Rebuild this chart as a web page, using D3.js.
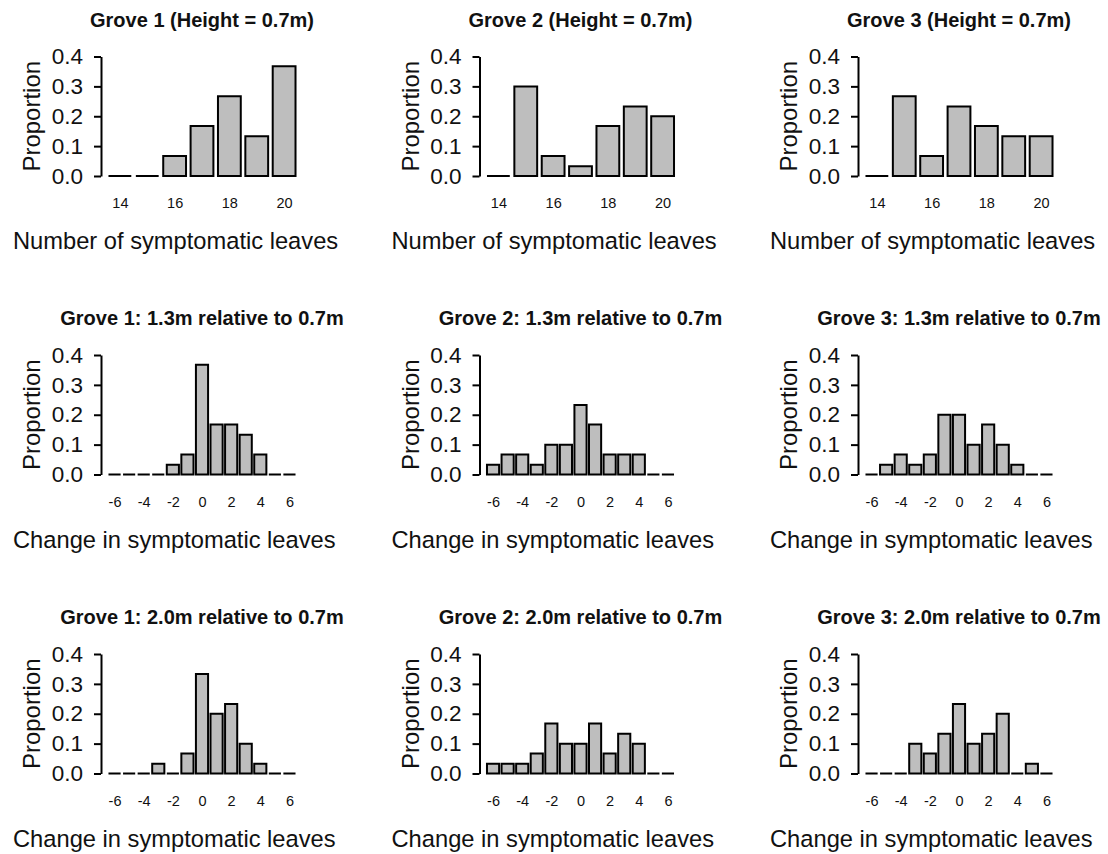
<!DOCTYPE html>
<html>
<head>
<meta charset="utf-8">
<script src="https://cdn.jsdelivr.net/npm/d3@7"></script>
<style>
  html, body { margin: 0; padding: 0; background: #fff; }
  svg { display: block; font-family: "Liberation Sans", Arial, sans-serif; }
</style>
</head>
<body>
<svg id="chart" width="1108" height="854"></svg>
<script>
// ---------- data ----------
const leafCounts = [14, 15, 16, 17, 18, 19, 20];
const leafTickLabels = ["14", "16", "18", "20"];
const changeValues = [-6, -5, -4, -3, -2, -1, 0, 1, 2, 3, 4, 5, 6];
const changeTickLabels = ["-6", "-4", "-2", "0", "2", "4", "6"];
const yTicks = [0.0, 0.1, 0.2, 0.3, 0.4];
const yTickLabels = ["0.0", "0.1", "0.2", "0.3", "0.4"];

const grove1_07 = [0, 0, 0.067, 0.167, 0.267, 0.133, 0.367];
const grove2_07 = [0, 0.300, 0.067, 0.033, 0.167, 0.233, 0.200];
const grove3_07 = [0, 0.267, 0.067, 0.233, 0.167, 0.133, 0.133];

const grove1_13 = [0, 0, 0, 0, 0.033, 0.067, 0.367, 0.167, 0.167, 0.133, 0.067, 0, 0];
const grove2_13 = [0.033, 0.067, 0.067, 0.033, 0.100, 0.100, 0.233, 0.167, 0.067, 0.067, 0.067, 0, 0];
const grove3_13 = [0, 0.033, 0.067, 0.033, 0.067, 0.200, 0.200, 0.100, 0.167, 0.100, 0.033, 0, 0];

const grove1_20 = [0, 0, 0, 0.033, 0, 0.067, 0.333, 0.200, 0.233, 0.100, 0.033, 0, 0];
const grove2_20 = [0.033, 0.033, 0.033, 0.067, 0.167, 0.100, 0.100, 0.167, 0.067, 0.133, 0.100, 0, 0];
const grove3_20 = [0, 0, 0, 0.100, 0.067, 0.133, 0.233, 0.100, 0.133, 0.200, 0, 0.033, 0];

const panelTitles = [
  ["Grove 1 (Height = 0.7m)", "Grove 2 (Height = 0.7m)", "Grove 3 (Height = 0.7m)"],
  ["Grove 1: 1.3m relative to 0.7m", "Grove 2: 1.3m relative to 0.7m", "Grove 3: 1.3m relative to 0.7m"],
  ["Grove 1: 2.0m relative to 0.7m", "Grove 2: 2.0m relative to 0.7m", "Grove 3: 2.0m relative to 0.7m"]
];
const xLabels = ["Number of symptomatic leaves", "Change in symptomatic leaves", "Change in symptomatic leaves"];
const yLabel = "Proportion";

// ---------- layout ----------
const colAxisX = [101, 479.5, 858];
const rowZeroY = [176, 474.5, 773.5];
const plotW = 202;
const plotH04 = 119.5;   // pixel height from 0 to 0.4
const barSpace = 0.2;

const rows = [
  { cats: leafCounts, labels: leafTickLabels, series: [grove1_07, grove2_07, grove3_07] },
  { cats: changeValues, labels: changeTickLabels, series: [grove1_13, grove2_13, grove3_13] },
  { cats: changeValues, labels: changeTickLabels, series: [grove1_20, grove2_20, grove3_20] }
];

const svg = d3.select("#chart");

rows.forEach((row, ri) => {
  row.series.forEach((vals, ci) => {
    const ax = colAxisX[ci];
    const y0 = rowZeroY[ri];
    const n = row.cats.length;
    // R barplot geometry: bars in [space + i*(1+space), (i+1)*(1+space)], 4% expansion
    const lo = barSpace, hi = n * (1 + barSpace);
    const pad = 0.04 * (hi - lo);
    const x = d3.scaleLinear().domain([lo - pad, hi + pad]).range([ax, ax + plotW]);
    const y = d3.scaleLinear().domain([0, 0.4]).range([y0, y0 - plotH04]);

    const g = svg.append("g");

    // bars
    g.selectAll("path.bar")
      .data(vals)
      .join("path")
      .attr("class", "bar")
      .attr("d", (v, i) => {
        const xl = x(barSpace + i * (1 + barSpace));
        const xr = x((i + 1) * (1 + barSpace));
        return `M${xl},${y(0)}V${y(v)}H${xr}V${y(0)}Z`;
      })
      .attr("fill", "#bebebe")
      .attr("stroke", "#000")
      .attr("stroke-width", 2)
      .attr("stroke-linejoin", "miter");

    // y axis
    const yAxis = d3.axisLeft(y)
      .tickValues(yTicks)
      .tickFormat((d, i) => yTickLabels[i])
      .tickSize(7)
      .tickSizeOuter(0)
      .tickPadding(11);
    const ya = g.append("g").attr("transform", `translate(${ax},0)`).call(yAxis);
    ya.select(".domain").attr("stroke", "#000").attr("stroke-width", 2);
    ya.selectAll(".tick line").attr("stroke", "#000").attr("stroke-width", 2);
    ya.selectAll(".tick text")
      .attr("font-size", 22.5)
      .attr("font-family", "Liberation Sans, Arial, sans-serif")
      .attr("fill", "#111");

    // x tick labels (every other category)
    const labelVals = row.labels.map(l => +l);
    const centers = labelVals.map(v => {
      const i = row.cats.indexOf(v);
      return barSpace + i * (1 + barSpace) + 0.5;
    });
    const xAxis = d3.axisBottom(x)
      .tickValues(centers)
      .tickFormat((d, i) => row.labels[i])
      .tickSize(0)
      .tickPadding(0);
    const xa = g.append("g").attr("transform", `translate(0,${y0 + 22})`).call(xAxis);
    xa.select(".domain").remove();
    xa.selectAll(".tick text")
      .attr("font-size", 14.5)
      .attr("font-family", "Liberation Sans, Arial, sans-serif")
      .attr("fill", "#111");

    // title
    g.append("text")
      .attr("x", ax + plotW / 2)
      .attr("y", y0 - 149.5)
      .attr("text-anchor", "middle")
      .attr("font-size", 20)
      .attr("font-weight", "bold")
      .attr("fill", "#111")
      .text(panelTitles[ri][ci]);

    // x label
    g.append("text")
      .attr("x", ax - 88)
      .attr("y", y0 + 73)
      .attr("text-anchor", "start")
      .attr("font-size", 23.7)
      .attr("fill", "#111")
      .text(xLabels[ri]);

    // y label
    g.append("text")
      .attr("transform", `translate(${ax - 61},${y0 - plotH04 / 2}) rotate(-90)`)
      .attr("text-anchor", "middle")
      .attr("font-size", 24)
      .attr("fill", "#111")
      .text(yLabel);
  });
});
</script>
</body>
</html>
